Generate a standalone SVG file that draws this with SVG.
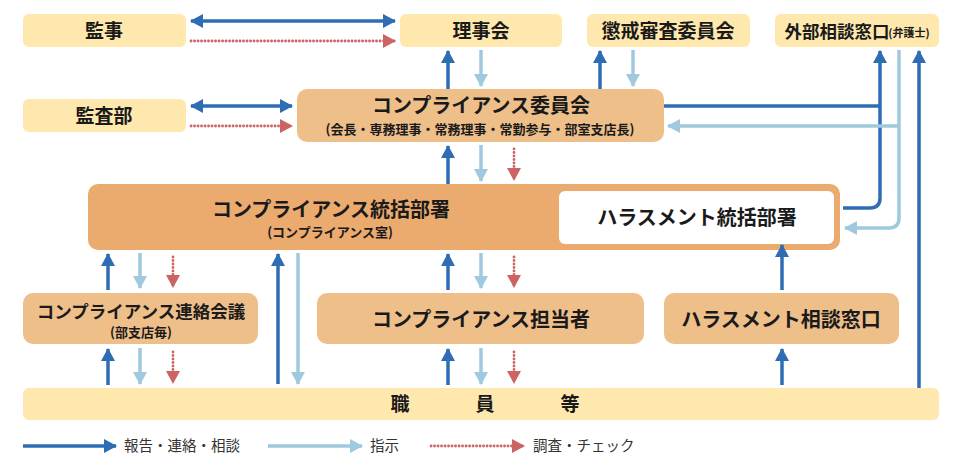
<svg xmlns="http://www.w3.org/2000/svg" width="960" height="460" viewBox="0 0 960 460">
<style>
text{font-family:"Noto Sans CJK JP","Noto Sans",sans-serif;fill:#1a1a1a;text-anchor:middle;font-weight:700}
.pale{fill:#fee8ad}
.org{fill:#efbf8a}
.dk{fill:#ebaa6e}
.b{stroke:#2e6db4;stroke-width:3.5;fill:none}
.l{stroke:#9fc9de;stroke-width:3.5;fill:none}
.r{stroke:#cc6464;stroke-width:2.8;fill:none;stroke-dasharray:0.1 3.4;stroke-linecap:round}
.t19{font-size:19px}.t20{font-size:20px}.t17{font-size:17.5px}.t13{font-size:13px}.leg{font-size:14.5px;text-anchor:start;font-weight:400;fill:#333}
</style>
<defs>
<marker id="mb" markerUnits="userSpaceOnUse" markerWidth="13" markerHeight="14" refX="12" refY="7" orient="auto-start-reverse"><path d="M0,0 L13,7 L0,14 z" fill="#2e6db4"/></marker>
<marker id="ml" markerUnits="userSpaceOnUse" markerWidth="13" markerHeight="14" refX="12" refY="7" orient="auto-start-reverse"><path d="M0,0 L13,7 L0,14 z" fill="#9fc9de"/></marker>
<marker id="mr" markerUnits="userSpaceOnUse" markerWidth="13" markerHeight="14" refX="12" refY="7" orient="auto"><path d="M0,0 L13,7 L0,14 z" fill="#cc6464"/></marker>
</defs>

<g id="kanji">
<rect class="pale" x="23" y="14" width="163" height="33" rx="6"/>
<text class="t19" x="104" y="38">監事</text>
</g>
<g id="rijikai">
<rect class="pale" x="400" y="14" width="162" height="33" rx="6"/>
<text class="t19" x="481" y="38">理事会</text>
</g>
<g id="choukai">
<rect class="pale" x="587" y="14" width="163" height="33" rx="6"/>
<text class="t19" x="668" y="38">懲戒審査委員会</text>
</g>
<g id="gaibu">
<rect class="pale" x="775" y="14" width="164" height="33" rx="6"/>
<text x="837" y="38" style="font-size:17.5px">外部相談窓口</text>
<text x="909" y="37" style="font-size:11px">(弁護士)</text>
</g>
<g id="kansabu">
<rect class="pale" x="23" y="99" width="163" height="33" rx="6"/>
<text class="t19" x="104" y="123">監査部</text>
</g>
<g id="iinkai">
<rect class="org" x="297" y="89" width="367" height="53" rx="10"/>
<text class="t20" x="481" y="113">コンプライアンス委員会</text>
<text class="t13" x="480" y="134">(会長・専務理事・常務理事・常勤参与・部室支店長)</text>
</g>
<g id="toukatsu">
<rect class="dk" x="88" y="184" width="752" height="66" rx="10"/>
<text class="t20" x="331" y="217">コンプライアンス統括部署</text>
<text class="t13" x="330" y="237">(コンプライアンス室)</text>
</g>
<g id="harassment-toukatsu">
<rect fill="#ffffff" x="559" y="191" width="275" height="53" rx="6"/>
<text class="t20" x="697" y="225">ハラスメント統括部署</text>
</g>
<g id="renraku">
<rect class="org" x="23" y="293" width="235" height="51" rx="10"/>
<text class="t17" x="141" y="318">コンプライアンス連絡会議</text>
<text class="t13" x="141" y="337">(部支店毎)</text>
</g>
<g id="tantou">
<rect class="org" x="317" y="293" width="327" height="51" rx="10"/>
<text class="t20" x="481" y="327">コンプライアンス担当者</text>
</g>
<g id="soudan">
<rect class="org" x="664" y="293" width="235" height="51" rx="10"/>
<text class="t20" x="781" y="327">ハラスメント相談窓口</text>
</g>
<g id="shokuin">
<rect class="pale" x="23" y="388" width="916" height="32" rx="6"/>
<text class="t19" x="400" y="411">職</text>
<text class="t19" x="485" y="411">員</text>
<text class="t19" x="570" y="411">等</text>
</g>

<g id="connectors">
<path class="b" d="M191,21 H395" marker-start="url(#mb)" marker-end="url(#mb)"/>
<path class="r" d="M191,41 H395" marker-end="url(#mr)"/>
<path class="b" d="M191,106 H292" marker-start="url(#mb)" marker-end="url(#mb)"/>
<path class="r" d="M191,126 H292" marker-end="url(#mr)"/>

<path class="b" d="M448,89 V51" marker-end="url(#mb)"/>
<path class="l" d="M481,50 V86" marker-end="url(#ml)"/>
<path class="b" d="M600,89 V51" marker-end="url(#mb)"/>
<path class="l" d="M633,50 V86" marker-end="url(#ml)"/>

<path class="b" d="M664,106 H880"/>
<path class="b" d="M843,208 H870 Q880,208 880,198 V51" marker-end="url(#mb)"/>
<path class="l" d="M899,50 V218 Q899,228 889,228 H845" marker-end="url(#ml)"/>
<path class="l" d="M899,126 H668" marker-end="url(#ml)"/>
<path class="b" d="M919,388 V51" marker-end="url(#mb)"/>

<path class="b" d="M448,184 V146" marker-end="url(#mb)"/>
<path class="l" d="M481,145 V181" marker-end="url(#ml)"/>
<path class="r" d="M514,149 V180" marker-end="url(#mr)"/>

<path class="b" d="M108,290 V254" marker-end="url(#mb)"/>
<path class="l" d="M140,253 V288" marker-end="url(#ml)"/>
<path class="r" d="M173,257 V287" marker-end="url(#mr)"/>
<path class="b" d="M278,384 V254" marker-end="url(#mb)"/>
<path class="l" d="M298,253 V384" marker-end="url(#ml)"/>
<path class="b" d="M448,290 V254" marker-end="url(#mb)"/>
<path class="l" d="M481,253 V288" marker-end="url(#ml)"/>
<path class="r" d="M514,257 V287" marker-end="url(#mr)"/>
<path class="b" d="M782,290 V245" marker-end="url(#mb)"/>

<path class="b" d="M108,385 V349" marker-end="url(#mb)"/>
<path class="l" d="M140,348 V384" marker-end="url(#ml)"/>
<path class="r" d="M173,352 V383" marker-end="url(#mr)"/>
<path class="b" d="M448,385 V349" marker-end="url(#mb)"/>
<path class="l" d="M481,348 V384" marker-end="url(#ml)"/>
<path class="r" d="M514,352 V383" marker-end="url(#mr)"/>
<path class="b" d="M782,385 V349" marker-end="url(#mb)"/>
</g>

<g id="legend">
<path class="b" d="M23,446 H116" marker-end="url(#mb)"/>
<text class="leg" x="124" y="451">報告・連絡・相談</text>
<path class="l" d="M268,446 H362" marker-end="url(#ml)"/>
<text class="leg" x="370" y="451">指示</text>
<path class="r" d="M431,446 H524" marker-end="url(#mr)"/>
<text class="leg" x="533" y="451">調査・チェック</text>
</g>
</svg>
